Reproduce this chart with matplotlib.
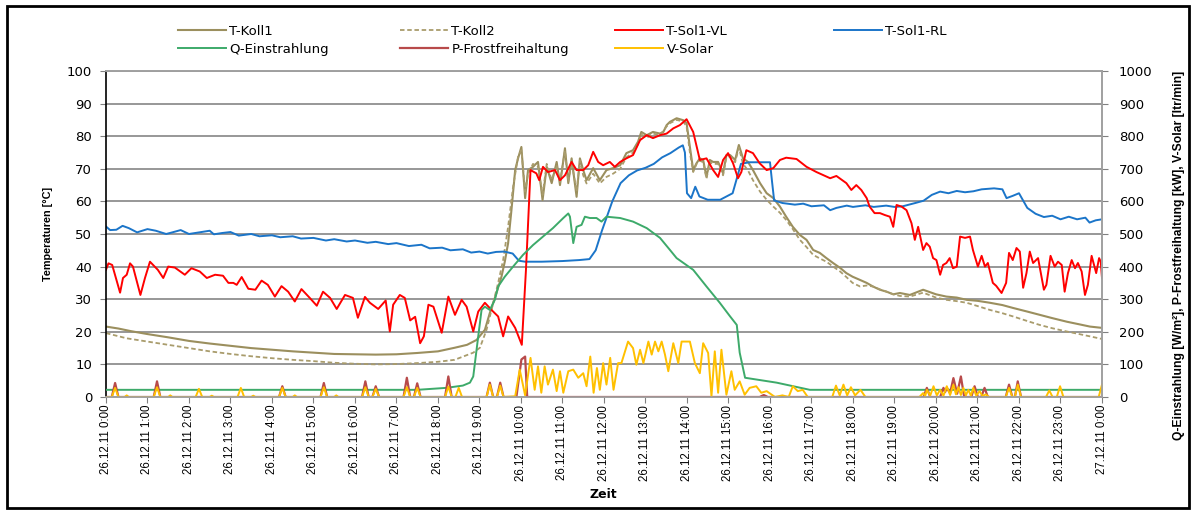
import matplotlib
matplotlib.use("Agg")
import matplotlib.pyplot as plt
from matplotlib.patches import Rectangle

plt.rcParams['font.family'] = ['DejaVu Sans']

# ---- Daten (Zeit in Stunden ab 26.12.11 0:00) ----
koll1_t = [0.0, 0.3, 0.6, 1.0, 1.5, 2.0, 2.5, 3.0, 3.5, 4.0, 4.5, 5.0, 5.5, 6.0, 6.5, 7.0, 7.5, 8.0,
           8.4, 8.7, 8.93, 9.13, 9.25, 9.41, 9.53, 9.61, 9.69, 9.77, 9.86, 9.93, 10.01, 10.1, 10.17,
           10.29, 10.41, 10.52, 10.62, 10.74, 10.86, 10.94, 11.06, 11.14, 11.22, 11.34, 11.42, 11.5,
           11.58, 11.74, 11.9, 12.06, 12.22, 12.39, 12.54, 12.7, 12.82, 12.9, 13.03, 13.18, 13.35,
           13.43, 13.51, 13.59, 13.75, 13.91, 13.99, 14.07, 14.15, 14.23, 14.31, 14.39, 14.47, 14.55,
           14.63, 14.75, 14.87, 14.95, 15.04, 15.16, 15.25, 15.35, 15.47, 15.59, 15.76, 15.92, 16.08,
           16.24, 16.39, 16.55, 16.72, 16.88, 17.04, 17.2, 17.36, 17.52, 17.69, 17.84, 17.99, 18.17,
           18.33, 18.48, 18.65, 18.81, 18.97, 19.13, 19.37, 19.69, 20.0, 20.25, 20.5, 20.74, 21.0,
           21.3, 21.6, 21.86, 22.2, 22.5, 22.8, 23.15, 23.45, 23.71, 24.0]
koll1_v = [21.6, 21.0, 20.2, 19.3, 18.3, 17.2, 16.4, 15.7, 15.0, 14.5, 14.0, 13.6, 13.2, 13.1, 13.0,
           13.1, 13.5, 14.0, 15.1, 16.0, 17.5, 20.6, 25.8, 31.9, 36.9, 41.5, 47.2, 57.3, 69.6, 73.2,
           76.7, 61.0, 69.6, 70.6, 72.1, 60.4, 70.6, 65.6, 72.1, 65.0, 76.3, 65.6, 73.2, 61.4, 73.2,
           69.6, 66.5, 70.2, 66.5, 69.6, 70.2, 71.1, 74.8, 75.7, 78.3, 81.3, 80.3, 81.3, 80.8, 81.3,
           83.4, 84.4, 85.5, 84.9, 84.0, 76.7, 69.6, 71.7, 73.2, 72.7, 67.5, 72.7, 72.1, 72.1, 68.6,
           74.2, 74.2, 72.7, 77.3, 73.2, 72.1, 69.6, 65.6, 62.5, 61.0, 58.4, 55.3, 52.2, 49.7, 48.2,
           45.1, 44.2, 42.6, 41.1, 39.6, 38.0, 36.9, 35.9, 35.0, 33.9, 32.9, 32.3, 31.5, 31.9, 31.3,
           32.9, 31.5, 30.8, 30.5, 29.8, 29.5, 28.9, 28.2, 27.3, 26.2, 25.2, 24.2, 23.1, 22.3, 21.6,
           21.2]

koll2_t = [0.0, 0.5, 1.0, 1.5, 2.0, 2.5, 3.0, 3.5, 4.0, 4.5, 5.0, 5.5, 6.0, 6.5, 7.0, 7.5, 8.0, 8.4,
           8.85, 9.01, 9.17, 9.29, 9.45, 9.57, 9.69, 9.81, 9.93, 10.01, 10.1, 10.17, 10.29, 10.41,
           10.52, 10.62, 10.74, 10.86, 10.94, 11.06, 11.14, 11.22, 11.34, 11.42, 11.5, 11.58, 11.74,
           11.9, 12.06, 12.22, 12.39, 12.54, 12.7, 12.82, 12.9, 13.03, 13.18, 13.35, 13.51, 13.59,
           13.75, 13.91, 13.99, 14.07, 14.15, 14.23, 14.31, 14.39, 14.47, 14.55, 14.63, 14.75, 14.87,
           14.95, 15.04, 15.16, 15.25, 15.35, 15.47, 15.59, 15.76, 15.92, 16.08, 16.24, 16.39, 16.55,
           16.72, 16.88, 17.04, 17.2, 17.36, 17.52, 17.69, 17.84, 17.99, 18.17, 18.33, 18.48, 18.65,
           18.81, 18.97, 19.13, 19.37, 19.69, 20.0, 20.25, 20.5, 20.74, 21.0, 21.3, 21.6, 21.86, 22.2,
           22.5, 22.8, 23.15, 23.45, 23.71, 24.0]
koll2_v = [19.6, 18.0, 17.0, 16.0, 15.0, 14.0, 13.2, 12.5, 11.9, 11.4, 11.0, 10.5, 10.2, 10.0, 10.1,
           10.4, 10.8, 11.4, 13.6, 15.1, 20.6, 26.7, 35.0, 42.0, 52.2, 64.5, 73.7, 75.7, 63.0, 68.5,
           71.5, 70.6, 62.0, 71.5, 66.5, 71.1, 66.0, 75.5, 66.0, 72.1, 63.0, 72.5, 68.0, 65.5, 68.5,
           65.5, 67.5, 68.5, 70.0, 73.5, 75.0, 77.5, 80.5, 79.5, 80.8, 80.3, 83.0, 84.0, 85.0, 84.5,
           83.0, 75.0, 69.0, 71.5, 72.5, 72.0, 67.0, 72.0, 71.5, 71.5, 68.0, 73.5, 73.8, 72.0, 76.5,
           71.5, 69.5, 66.5, 63.0, 60.5, 58.4, 56.5, 54.3, 51.5, 48.2, 46.0, 43.6, 42.5, 41.5, 40.0,
           38.5, 36.8, 35.0, 33.9, 34.2, 33.9, 33.0, 32.3, 31.5, 31.0, 30.8, 32.0, 30.5, 29.8, 29.4,
           28.9, 27.9, 26.7, 25.7, 24.7, 23.3, 22.1, 21.1, 20.1, 19.3, 18.6, 17.8]

vl_t = [0.0, 0.06, 0.15, 0.34, 0.41, 0.5, 0.58, 0.65, 0.83, 0.94, 1.06, 1.25, 1.38, 1.5, 1.66, 1.9,
        2.06, 2.26, 2.43, 2.63, 2.82, 2.95, 3.07, 3.15, 3.27, 3.43, 3.6, 3.75, 3.9, 4.07, 4.23, 4.39,
        4.55, 4.71, 4.91, 5.08, 5.23, 5.4, 5.56, 5.76, 5.95, 6.07, 6.24, 6.36, 6.56, 6.74, 6.84, 6.92,
        7.08, 7.2, 7.33, 7.45, 7.57, 7.66, 7.77, 7.89, 8.09, 8.25, 8.41, 8.57, 8.69, 8.85, 8.97, 9.13,
        9.29, 9.45, 9.57, 9.69, 9.86, 10.02, 10.12, 10.23, 10.37, 10.44, 10.53, 10.65, 10.82, 10.94,
        11.06, 11.22, 11.34, 11.5, 11.62, 11.74, 11.86, 11.98, 12.14, 12.26, 12.39, 12.54, 12.7,
        12.87, 13.03, 13.18, 13.35, 13.51, 13.67, 13.83, 13.99, 14.15, 14.31, 14.47, 14.63, 14.75,
        14.87, 14.99, 15.11, 15.23, 15.31, 15.43, 15.59, 15.75, 15.92, 16.08, 16.24, 16.39, 16.64,
        16.88, 17.12, 17.45, 17.6, 17.84, 17.96, 18.08, 18.2, 18.33, 18.4, 18.52, 18.65, 18.77,
        18.89, 18.97, 19.05, 19.17, 19.29, 19.41, 19.49, 19.57, 19.69, 19.77, 19.85, 19.93, 20.01,
        20.1, 20.17, 20.25, 20.33, 20.41, 20.5, 20.58, 20.7, 20.82, 20.89, 21.01, 21.1, 21.18, 21.25,
        21.37, 21.45, 21.58, 21.69, 21.76, 21.85, 21.94, 22.02, 22.1, 22.18, 22.26, 22.34, 22.46,
        22.6, 22.66, 22.76, 22.86, 22.94, 23.03, 23.1, 23.18, 23.27, 23.35, 23.42, 23.51, 23.59,
        23.66, 23.75, 23.86, 23.93, 23.97, 24.0]
vl_v = [39.0, 41.0, 40.5, 32.0, 36.5, 37.5, 41.0, 40.0, 31.3, 36.5, 41.5, 39.0, 36.5, 40.0, 39.7,
        37.5, 39.5, 38.5, 36.5, 37.5, 37.2, 35.0, 35.0, 34.4, 36.8, 33.2, 32.9, 35.7, 34.4, 30.8,
        34.0, 32.3, 29.3, 33.1, 30.4, 28.0, 32.3, 30.4, 27.0, 31.3, 30.4, 24.3, 30.7, 28.9, 27.0,
        29.6, 20.1, 28.3, 31.3, 30.4, 23.5, 24.6, 16.5, 18.6, 28.3, 27.7, 19.7, 30.8, 25.2, 29.8,
        27.7, 20.1, 26.2, 28.9, 26.7, 24.7, 18.6, 24.7, 21.2, 16.0, 39.0, 69.6, 68.6, 66.5, 70.6,
        69.0, 69.6, 66.5, 68.0, 72.1, 69.6, 69.6, 71.1, 75.2, 72.1, 71.1, 72.1, 70.6, 72.1, 73.2,
        74.2, 78.8, 80.3, 79.4, 80.3, 80.8, 82.4, 83.4, 85.2, 81.3, 72.7, 73.2, 69.6, 67.5, 72.7,
        74.8, 71.7, 67.1, 69.0, 75.7, 74.8, 71.7, 69.6, 70.2, 72.7, 73.4, 73.0, 70.6, 69.0, 67.1,
        67.8, 65.6, 63.5, 65.0, 63.5, 61.0, 58.4, 56.4, 56.4, 55.8, 55.3, 52.2, 58.9, 58.4, 57.3,
        53.3, 48.2, 52.2, 45.1, 47.2, 46.1, 42.6, 42.0, 37.5, 40.5, 41.1, 42.6, 39.5, 40.0, 49.2,
        48.8, 49.2, 45.1, 40.0, 43.3, 40.0, 41.1, 35.0, 34.1, 31.9, 35.0, 44.2, 42.0, 45.7, 44.6,
        33.5, 38.0, 44.6, 41.1, 42.6, 32.9, 34.4, 43.3, 40.0, 41.5, 40.5, 32.3, 38.0, 42.0, 39.5,
        41.1, 38.5, 31.3, 34.4, 43.3, 38.0, 42.6, 41.5, 36.5]

rl_t = [0.0, 0.1, 0.25, 0.4, 0.55, 0.75, 1.0, 1.2, 1.45, 1.6, 1.8, 2.0, 2.25, 2.5, 2.6, 2.8, 3.0, 3.2,
        3.5, 3.7, 4.0, 4.2, 4.5, 4.7, 5.0, 5.3, 5.5, 5.8, 6.0, 6.3, 6.5, 6.8, 7.0, 7.3, 7.6, 7.8, 8.1,
        8.3, 8.6, 8.8, 9.0, 9.2, 9.4, 9.6, 9.8, 9.95, 10.1, 10.5, 11.0, 11.4, 11.65, 11.8, 11.95,
        12.07, 12.2, 12.4, 12.6, 12.8, 13.0, 13.2, 13.4, 13.6, 13.8, 13.9, 13.95, 14.0, 14.1, 14.2,
        14.3, 14.5, 14.8, 14.95, 15.1, 15.2, 15.3, 15.5, 16.0, 16.05, 16.1, 16.3, 16.6, 16.8, 17.0,
        17.3, 17.45, 17.6, 17.85, 18.0, 18.3, 18.5, 18.8, 19.0, 19.2, 19.5, 19.7, 19.9, 20.1, 20.3,
        20.5, 20.7, 20.9, 21.1, 21.4, 21.6, 21.7, 21.85, 22.0, 22.2, 22.4, 22.6, 22.8, 23.0, 23.2,
        23.4, 23.6, 23.7, 23.85, 24.0]
rl_v = [52.3, 51.2, 51.3, 52.5, 51.8, 50.5, 51.5, 51.0, 50.0, 50.5, 51.2, 50.0, 50.5, 51.0, 49.9,
        50.3, 50.6, 49.5, 50.0, 49.3, 49.6, 49.0, 49.3, 48.6, 48.8, 48.0, 48.4, 47.7, 48.0, 47.3,
        47.6, 46.9, 47.2, 46.3, 46.7, 45.6, 45.8, 45.0, 45.3, 44.3, 44.6, 44.0, 44.5, 44.6, 44.0,
        41.8, 41.5, 41.5, 41.7, 42.0, 42.3, 45.0, 51.0, 55.3, 60.0, 65.6, 68.0, 69.5, 70.3, 71.5,
        73.5, 74.8, 76.5, 77.2, 75.0, 62.5, 61.0, 64.5, 61.5, 60.5, 60.5, 61.5, 62.5, 67.0, 71.5,
        72.0, 72.0, 66.0, 60.3, 59.5, 59.0, 59.3, 58.5, 58.8, 57.3, 58.0, 58.7, 58.3, 58.8, 58.3,
        58.7, 58.3, 58.5, 59.5, 60.2, 62.0, 63.0, 62.5, 63.2, 62.8, 63.1, 63.7, 64.0, 63.7, 61.0,
        61.7, 62.5, 58.0, 56.2, 55.2, 55.6, 54.5, 55.3, 54.5, 55.0, 53.5, 54.2, 54.5]

q_t = [0, 7.5, 8.2, 8.6, 8.77, 8.85, 8.97, 9.05, 9.13, 9.25, 9.37, 9.45, 9.61, 9.81, 10.05, 10.29,
       10.53, 10.77, 11.02, 11.14, 11.18, 11.26, 11.34, 11.46, 11.54, 11.66, 11.82, 11.94, 12.06,
       12.39, 12.7, 13.03, 13.35, 13.59, 13.75, 14.15, 14.47, 14.79, 15.04, 15.2, 15.27, 15.4,
       16.16, 16.96, 24]
q_v = [22, 22, 28, 35, 44, 63, 186, 267, 277, 267, 298, 339, 369, 400, 436, 466, 492, 518, 549, 563,
       553, 472, 522, 528, 553, 549, 549, 538, 553, 549, 538, 518, 488, 451, 426, 390, 339, 289, 247,
       221, 136, 59, 44, 22, 22]

pf_t = [0.00, 0.14, 0.22, 0.30, 1.15, 1.23, 1.31, 4.17, 4.25, 4.33, 5.17, 5.25, 5.33,
        6.17, 6.25, 6.33, 6.42, 6.50, 6.58, 7.17, 7.25, 7.33, 7.42, 7.50, 7.58, 8.17, 8.25, 8.33,
        9.17, 9.25, 9.33, 9.42, 9.50, 9.58, 9.89, 10.01, 10.10, 10.15, 15.75, 15.85, 15.95,
        19.70, 19.78, 19.86, 20.10, 20.18, 20.22, 20.26, 20.34, 20.42, 20.51, 20.60, 20.68,
        20.85, 20.93, 21.01, 21.09, 21.17, 21.25, 21.68, 21.76, 21.84, 21.90, 21.97, 22.05, 24.00]
pf_v = [0, 0, 43, 0, 0, 48, 0, 0, 33, 0, 0, 43, 0,
        0, 48, 0, 0, 33, 0, 0, 59, 0, 0, 42, 0, 0, 63, 0,
        0, 44, 0, 0, 44, 0, 0, 115, 124, 0, 0, 6, 0,
        0, 28, 0, 0, 28, 15, 28, 12, 58, 10, 63, 0,
        0, 33, 0, 0, 28, 0, 0, 38, 0, 0, 48, 0, 0]

vs_t = [0.00, 0.14, 0.22, 0.30, 0.45, 0.50, 0.55,
        1.15, 1.23, 1.31, 1.50, 1.55, 1.60,
        2.16, 2.24, 2.32, 2.50, 2.55, 2.60,
        3.17, 3.25, 3.33, 3.50, 3.55, 3.60,
        4.17, 4.25, 4.33, 4.50, 4.55, 4.60,
        5.17, 5.25, 5.33, 5.50, 5.55, 5.60,
        6.17, 6.25, 6.33, 6.42, 6.50, 6.58,
        7.17, 7.25, 7.33, 7.42, 7.50, 7.58,
        8.17, 8.25, 8.33, 8.42, 8.50, 8.58,
        9.17, 9.25, 9.33, 9.42, 9.50, 9.58,
        9.86, 9.97, 10.10, 10.23, 10.33, 10.41, 10.49, 10.57, 10.65, 10.77, 10.86, 10.94, 11.02,
        11.14, 11.26, 11.38, 11.50, 11.58, 11.67, 11.75, 11.83, 11.90, 11.98, 12.06, 12.15, 12.23,
        12.34, 12.42, 12.58, 12.70, 12.78, 12.87, 12.95, 13.07, 13.15, 13.23, 13.31, 13.39, 13.47,
        13.55, 13.67, 13.79, 13.87, 14.07, 14.19, 14.31, 14.39, 14.51, 14.59, 14.67, 14.75, 14.83,
        14.95, 15.07, 15.15, 15.27, 15.39, 15.51, 15.67, 15.79, 15.92, 16.12, 16.30, 16.45, 16.55,
        16.67, 16.79, 16.91,
        17.50, 17.59, 17.68, 17.77, 17.86, 17.95, 18.05, 18.18, 18.30,
        19.60, 19.69, 19.74, 19.78, 19.86, 19.94, 20.02, 20.10, 20.18, 20.26, 20.34, 20.42, 20.48,
        20.54, 20.60, 20.66, 20.72, 20.78, 20.84, 20.90, 20.97, 21.05, 21.12, 21.20, 21.28,
        21.68, 21.76, 21.84, 21.90, 21.97, 22.05,
        22.65, 22.73, 22.81, 22.91, 22.99, 23.07,
        23.92, 24.00]
vs_v = [0, 0, 28, 0, 0, 5, 0,
        0, 30, 0, 0, 5, 0,
        0, 25, 0, 0, 4, 0,
        0, 28, 0, 0, 4, 0,
        0, 28, 0, 0, 5, 0,
        0, 30, 0, 0, 5, 0,
        0, 30, 0, 0, 25, 0,
        0, 30, 0, 0, 28, 0,
        0, 32, 0, 0, 28, 0,
        0, 38, 0, 0, 35, 0,
        2, 84, 5, 120, 22, 94, 13, 94, 38, 84, 18, 79, 13,
        79, 84, 59, 73, 33, 124, 13, 89, 22, 104, 38, 120, 22,
        104, 104, 170, 150, 99, 145, 104, 170, 130, 170, 140, 170, 130,
        79, 165, 104, 170, 170, 104, 73, 165, 135, 2, 140, 13, 145,
        7, 79, 22, 48, 7, 28, 33, 13, 18, 0, 5, 0, 33,
        18, 22, 0,
        0, 35, 5, 38, 5, 30, 5, 22, 0,
        0, 12, 3, 22, 4, 33, 5, 22, 4, 33, 6, 38, 8,
        30, 6, 28, 5, 22, 4, 28, 4, 18, 3, 8, 0,
        0, 28, 0, 0, 38, 0,
        0, 20, 0, 0, 33, 0,
        0, 38]

hours = list(range(25))
tick_labels = [f"26.12.11 {h}:00" for h in range(24)] + ["27.12.11 0:00"]

# ---- Farben ----
C_KOLL1 = '#9B8F5E'
C_KOLL2 = '#A99C6C'
C_VL = '#FF0000'
C_RL = '#1B75C9'
C_Q = '#3DAA6A'
C_P = '#B84A4A'
C_V = '#FFC000'

fig = plt.figure(figsize=(11.96, 5.11), dpi=100)
ax = fig.add_axes([0.0886, 0.2231, 0.8328, 0.638])
ax2 = ax.twinx()

lw = 1.4
l_k1, = ax.plot(koll1_t, koll1_v, color=C_KOLL1, lw=1.5, label='T-Koll1')
l_k2, = ax.plot(koll2_t, koll2_v, color=C_KOLL2, lw=1.3, ls=(0, (2.5, 1.5)), label='T-Koll2')
l_rl, = ax.plot(rl_t, rl_v, color=C_RL, lw=lw, label='T-Sol1-RL')
l_vl, = ax.plot(vl_t, vl_v, color=C_VL, lw=lw, label='T-Sol1-VL')

l_q, = ax2.plot(q_t, q_v, color=C_Q, lw=lw, label='Q-Einstrahlung')
l_p, = ax2.plot(pf_t, pf_v, color=C_P, lw=1.6, label='P-Frostfreihaltung')
l_v, = ax2.plot(vs_t, vs_v, color=C_V, lw=lw, label='V-Solar')

ax.set_xlim(0, 24)
ax.set_ylim(0, 100)
ax2.set_ylim(0, 1000)
ax.set_yticks(range(0, 101, 10))
ax2.set_yticks(range(0, 1001, 100))
ax.set_xticks(hours)
ax.set_xticklabels(tick_labels, rotation=90, fontsize=8.3, family='Liberation Sans')

ax.grid(axis='y', color='#8f8f8f', lw=1.3)
ax.grid(axis='x', visible=False)
ax.set_axisbelow(True)

for a in (ax, ax2):
    for s in a.spines.values():
        s.set_color('#a0a0a0')
        s.set_linewidth(1.2)
ax.spines['left'].set_color('black')
ax2.spines['left'].set_visible(False)

ax.tick_params(axis='y', direction='out', length=4, color='#808080', labelsize=9.5, pad=6)
ax.tick_params(axis='x', direction='out', length=4, color='#808080', pad=1.5)
ax2.tick_params(axis='y', direction='out', length=4, color='#808080', labelsize=9.5, pad=8)

ax.set_ylabel('Temperaturen [°C]', fontsize=7.8, fontweight='bold', family='Liberation Sans')
ax.yaxis.set_label_coords(-0.053, 0.5)
ax2.set_ylabel('Q-Einstrahlung [W/m²], P-Frostfreihaltung [kW], V-Solar [ltr/min]',
               fontsize=8.7, fontweight='bold', family='Liberation Sans')
ax2.yaxis.set_label_coords(1.071, 0.435)
ax.set_xlabel('Zeit', fontsize=9, fontweight='bold')
ax.xaxis.set_label_coords(0.499, -0.279)

# Legende in vier Spalten, je zwei Zeilen
cols = [[l_k1, l_q], [l_k2, l_p], [l_vl, l_v], [l_rl]]
col_x = [178, 400, 615, 834]
for handles, x in zip(cols, col_x):
    fig.legend(handles=handles, labels=[h.get_label() for h in handles],
               loc='upper left', bbox_to_anchor=(x / 1196, 1 - 25 / 511),
               frameon=False, fontsize=9.5, handlelength=3.6, handletextpad=0.3,
               labelspacing=0.35, borderpad=0, borderaxespad=0)

# Rahmen um die ganze Grafik
fig.patches.append(Rectangle((7 / 1196, 3 / 511), 1182 / 1196, 502 / 511,
                             transform=fig.transFigure, fill=False,
                             edgecolor='black', lw=2.0))

fig.savefig('out.png', dpi=100)
